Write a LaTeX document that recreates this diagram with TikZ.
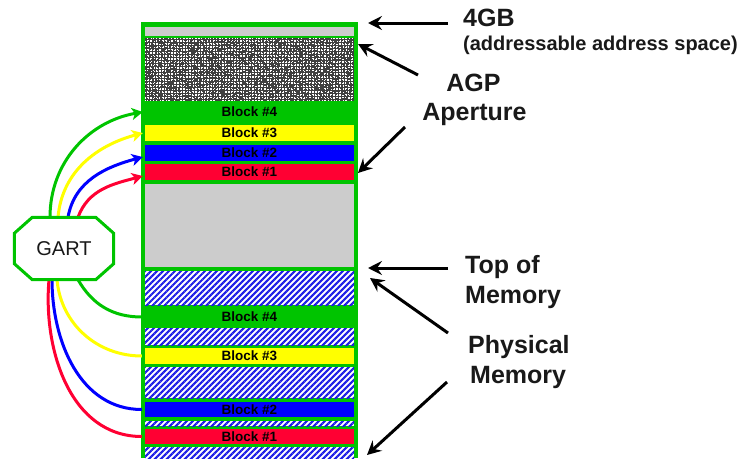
\documentclass[tikz,border=0pt]{standalone}
\usepackage{fontspec}
\setmainfont{Liberation Sans}
\usetikzlibrary{arrows.meta,patterns.meta}
\definecolor{ggreen}{RGB}{0,196,0}
\definecolor{gyellow}{RGB}{255,255,0}
\definecolor{gblue}{RGB}{0,0,255}
\definecolor{gred}{RGB}{255,0,51}
\definecolor{ggray}{RGB}{204,204,204}
\definecolor{hblue}{RGB}{30,30,230}
\definecolor{txt}{RGB}{25,25,25}
\tikzset{
  blk/.style={draw=none, minimum width=209pt, inner sep=0pt, font=\fontsize{13.5}{13.5}\selectfont\bfseries, text=black},
  hatch/.style={fill=white, postaction={pattern={Lines[angle=45,distance=4.24pt,line width=2.1pt]}, pattern color=hblue}},
  lbl/.style={font=\fontsize{25}{30}\selectfont\bfseries, inner sep=0pt, text=txt},
  sublbl/.style={font=\fontsize{20}{24}\selectfont\bfseries, inner sep=0pt, text=txt},
  barrow/.style={line width=3pt, black, -{Stealth[length=14pt,width=14pt,inset=5pt]}},
  carrow/.style={line width=3pt, -{Stealth[length=11pt,width=12pt,inset=3pt]}},
  cline/.style={line width=3pt},
  gartarea/.style={rectangle, draw=none, minimum width=99pt, minimum height=62pt, inner sep=0pt},
  gartedge/.style={draw=ggreen, line width=3pt, fill=white, line join=miter},
  garttext/.style={inner sep=0pt, font=\fontsize{20}{20}\selectfont, text=txt},
}
\begin{document}
\begin{tikzpicture}[x=1pt,y=-1pt]
\useasboundingbox (0,0) rectangle (744,458);
% memory column
\fill[ggreen] (141,22) rectangle (358,458);
\fill[ggray] (145,27) rectangle (354,36);
\fill[black!75] (145,38) rectangle (354,101);
\pgfmathsetseed{11}
\foreach \i in {0,...,138}{\foreach \j in {0,...,41}{%
  \pgfmathrandominteger{\r}{0}{9}%
  \ifnum\r>3 \fill[white] (145+1.5*\i,38+1.5*\j) rectangle ++(1.3,1.3);\fi}}
\node[blk, fill=ggreen, minimum height=18pt] (a4) at (249.5,112) {Block \#4};
\node[blk, fill=gyellow, minimum height=16pt] (a3) at (249.5,133) {Block \#3};
\node[blk, fill=gblue, minimum height=16pt] (a2) at (249.5,153) {Block \#2};
\node[blk, fill=gred, minimum height=16pt] (a1) at (249.5,172) {Block \#1};
\fill[ggray] (145,184) rectangle (354,267);
\path[hatch] (145,271) rectangle (354,305);
\node[blk, fill=ggreen, minimum height=20pt] (p4) at (249.5,317) {Block \#4};
\path[hatch] (145,328) rectangle (354,345);
\node[blk, fill=gyellow, minimum height=16pt] (p3) at (249.5,356) {Block \#3};
\path[hatch] (145,367) rectangle (354,398);
\node[blk, fill=gblue, minimum height=15pt] (p2) at (249.5,409.5) {Block \#2};
\path[hatch] (145,421) rectangle (354,426);
\node[blk, fill=gred, minimum height=15pt] (p1) at (249.5,436.5) {Block \#1};
\path[hatch] (145,447) rectangle (354,458);
% GART area
\node[gartarea] (gart) at (64,248.5) {};
% curves to aperture
\draw[carrow, ggreen] ([xshift=-14pt]gart.north) to[out=90,in=190] ([xshift=-2pt]a4.west);
\draw[carrow, gyellow] ([xshift=-6pt]gart.north) to[out=85,in=195] ([xshift=-2pt]a3.west);
\draw[carrow, gblue] ([xshift=4pt]gart.north) to[out=80,in=195] ([xshift=-2pt,yshift=-4pt]a2.west);
\draw[carrow, gred] ([xshift=14pt]gart.north) to[out=70,in=195] ([xshift=-2pt,yshift=-4pt]a1.west);
% curves to physical
\draw[cline, ggreen] ([xshift=14pt]gart.south) to[out=-60,in=180] ([xshift=-3pt]p4.west);
\draw[cline, gyellow] ([xshift=-7pt]gart.south) to[out=-85,in=180] ([xshift=-3pt]p3.west);
\draw[cline, gblue] ([xshift=-12pt]gart.south) to[out=-90,in=180] ([xshift=-3pt]p2.west);
\draw[cline, gred] ([xshift=-15pt]gart.south) to[out=-95,in=180] ([xshift=-3pt]p1.west);
% GART octagon
\path[gartedge] ([xshift=18pt]gart.north west) -- ([xshift=-18pt]gart.north east)
  -- ([yshift=-16pt]gart.north east) -- ([yshift=16pt]gart.south east)
  -- ([xshift=-18pt]gart.south east) -- ([xshift=18pt]gart.south west)
  -- ([yshift=16pt]gart.south west) -- ([yshift=-16pt]gart.north west) -- cycle;
\node[garttext] (gartlabel) at (gart) {GART};
% labels
\node[lbl, anchor=base west] (l4gb) at (463,26) {4GB};
\node[sublbl, anchor=base west] (laddr) at (463,50) {(addressable address space)};
\node[lbl, anchor=base] (lagp) at (473.5,91) {AGP};
\node[lbl, anchor=base] (lapt) at (474.5,120) {Aperture};
\node[lbl, anchor=base west] (ltop) at (465,273) {Top of};
\node[lbl, anchor=base west] (lmem) at (465,303) {Memory};
\node[lbl, anchor=base west] (lphy) at (468,353) {Physical};
\node[lbl, anchor=base west] (lmem2) at (470,383) {Memory};
% arrow ends
\coordinate (s1) at (448,23);  \coordinate (e1) at (368,23);
\coordinate (s2) at (418,75);  \coordinate (e2) at (358,44);
\coordinate (s3) at (405,127); \coordinate (e3) at (358,173);
\coordinate (s4) at (448,268); \coordinate (e4) at (368,268);
\coordinate (s5) at (448,333); \coordinate (e5) at (370,278);
\coordinate (s6) at (447,382); \coordinate (e6) at (367,455);
\draw[barrow] (s1) -- (e1);
\draw[barrow] (s2) -- (e2);
\draw[barrow] (s3) -- (e3);
\draw[barrow] (s4) -- (e4);
\draw[barrow] (s5) -- (e5);
\draw[barrow] (s6) -- (e6);
\end{tikzpicture}
\end{document}
